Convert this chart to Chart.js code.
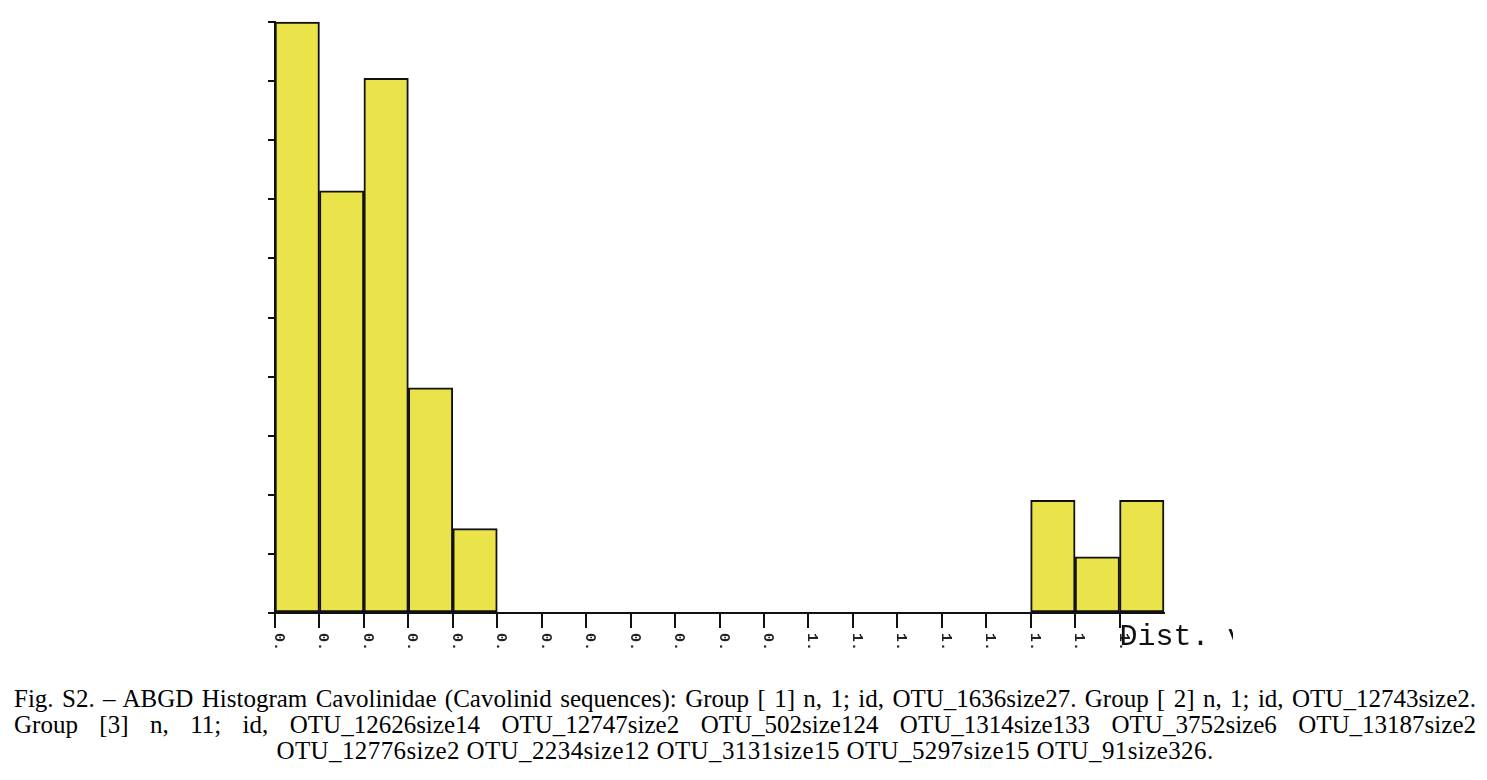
<!DOCTYPE html>
<html>
<head>
<meta charset="utf-8">
<script src="https://cdn.jsdelivr.net/npm/chart.js@4.4.0/dist/chart.umd.min.js"></script>
<style>
  html, body { margin: 0; padding: 0; background: #fff; }
  body { width: 1487px; height: 780px; position: relative; overflow: hidden; }
  #wrap { position: absolute; left: 0; top: 0; width: 1487px; height: 665px; }
  #caption {
    position: absolute; left: 14px; top: 686px; width: 1462px;
    font-family: "Liberation Serif", "Times New Roman", serif;
    font-size: 25px; line-height: 26px; color: #000;
  }
  #caption div { white-space: nowrap; }
  .just { text-align: justify; text-align-last: justify; }
  .center { text-align: center; letter-spacing: 0.4px; }
</style>
</head>
<body>
<div id="wrap"><canvas id="hist"></canvas></div>
<div id="caption">
  <div class="just">Fig. S2. – ABGD Histogram Cavolinidae (Cavolinid sequences): Group [ 1] n, 1; id, OTU_1636size27. Group [ 2] n, 1; id, OTU_12743size2.</div>
  <div class="just">Group [3] n, 11; id, OTU_12626size14 OTU_12747size2 OTU_502size124 OTU_1314size133 OTU_3752size6 OTU_13187size2</div>
  <div class="center">OTU_12776size2 OTU_2234size12 OTU_3131size15 OTU_5297size15 OTU_91size326.</div>
</div>
<script>
// histogram bins (distance classes) and counts
const binLabels = ["0.", "0.", "0.", "0.", "0.", "0.", "0.", "0.", "0.", "0.", "0.", "0.",
                   "1.", "1.", "1.", "1.", "1.", "1.", "1.", "1."];
const counts = [21, 15, 19, 8, 3, 0, 0, 0, 0, 0, 0, 0, 0, 0, 0, 0, 0, 4, 2, 4];
const yMax = 21;
const axisTitle = "Dist. values";

// rotated bin labels at the left edge of each bin + axis title
const edgeLabels = {
    id: "edgeLabels",
    afterDraw(chart) {
        const x = chart.scales.x;
        const ctx = chart.ctx;
        const half = (x.getPixelForValue(1) - x.getPixelForValue(0)) / 2;
        const top = chart.chartArea.bottom + 20;
        ctx.save();
        ctx.beginPath();
        ctx.rect(0, 0, 1233, 657);
        ctx.clip();
        ctx.fillStyle = "#222";
        ctx.font = 'bold 15px "Liberation Mono", monospace';
        binLabels.forEach((t, i) => {
            ctx.save();
            ctx.translate(x.getPixelForValue(i) - half, top);
            ctx.rotate(Math.PI / 2);
            ctx.fillText(t, 0, 0);
            ctx.restore();
        });
        ctx.font = '30px "Liberation Mono", monospace';
        ctx.fillStyle = "#111";
        ctx.fillText(axisTitle, x.getPixelForValue(19) - half, 645);
        ctx.restore();
    }
};

new Chart(document.getElementById("hist"), {
    type: "bar",
    data: {
        labels: binLabels,
        datasets: [{
            data: counts,
            backgroundColor: "#eae34a",
            borderColor: "#111",
            borderWidth: 2,
            borderSkipped: false,
            barPercentage: 1,
            categoryPercentage: 1,
            clip: false
        }]
    },
    options: {
        responsive: true,
        maintainAspectRatio: false,
        animation: false,
        layout: { padding: { left: 268, right: 323, top: 22, bottom: 37 } },
        plugins: { legend: { display: false }, tooltip: { enabled: false } },
        scales: {
            x: {
                offset: true,
                grid: {
                    offset: true,
                    drawOnChartArea: false,
                    tickLength: 15,
                    lineWidth: 2,
                    color: (c) => (c.type === "tick" && c.index < binLabels.length) ? "#111" : "rgba(0,0,0,0)"
                },
                border: { display: true, color: "#111", width: 2 },
                ticks: { display: false }
            },
            y: {
                min: 0,
                max: yMax,
                grid: { drawOnChartArea: false, tickLength: 7, lineWidth: 2, color: "#111" },
                border: { display: true, color: "#111", width: 2 },
                ticks: { display: false, count: 11 }
            }
        }
    },
    plugins: [edgeLabels]
});
</script>
</body>
</html>
